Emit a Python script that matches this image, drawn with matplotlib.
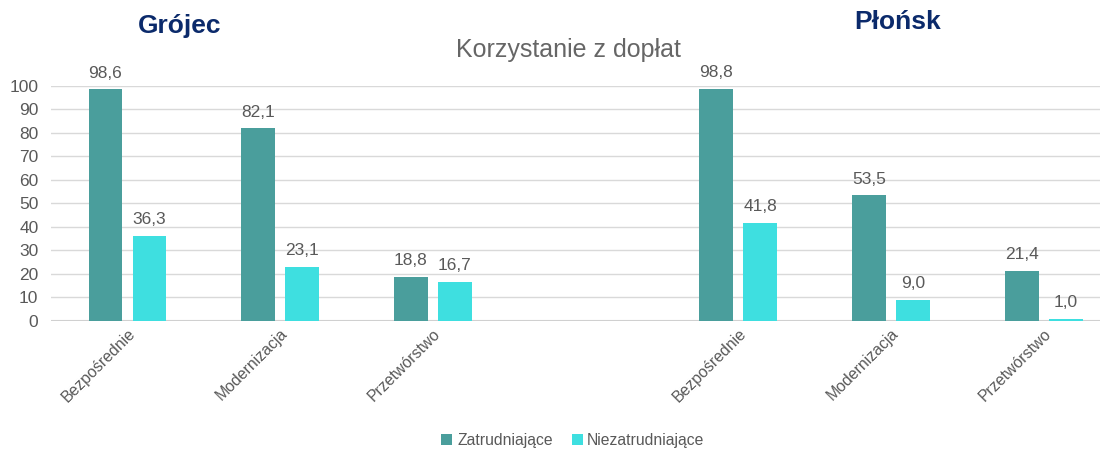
import numpy as np
import matplotlib.pyplot as plt

plt.rcParams['font.family'] = ['Liberation Sans', 'DejaVu Sans']

# data (4th slot is the empty gap between the two counties)
categories = ['Bezpośrednie', 'Modernizacja', 'Przetwórstwo', '',
              'Bezpośrednie', 'Modernizacja', 'Przetwórstwo']
zatrudniajace = [98.6, 82.1, 18.8, np.nan, 98.8, 53.5, 21.4]
niezatrudniajace = [36.3, 23.1, 16.7, np.nan, 41.8, 9.0, 1.0]
counties = ['Grójec', 'Płońsk']

teal = '#4A9E9C'
cyan = '#3EDFE0'
grey = '#595959'

fig = plt.figure(figsize=(11.13, 4.5), dpi=100)
ax = fig.add_axes([0.0458, 0.2867, 0.9424, 0.5223])

x = np.arange(len(categories))
w = 0.22
off = 0.144
b1 = ax.bar(x - off, zatrudniajace, w, color=teal, label='Zatrudniające', zorder=3)
b2 = ax.bar(x + off, niezatrudniajace, w, color=cyan, label='Niezatrudniające', zorder=3)

for bars, vals in ((b1, zatrudniajace), (b2, niezatrudniajace)):
    for rect, v in zip(bars, vals):
        if np.isnan(v):
            continue
        ax.annotate(f'{v:.1f}'.replace('.', ','),
                    (rect.get_x() + rect.get_width() / 2, v),
                    xytext=(0, 6), textcoords='offset points',
                    ha='center', va='bottom', fontsize=12.5, color=grey,
                    annotation_clip=False)

ax.set_ylim(0, 100)
ax.set_xlim(-0.5, -0.5 + 1049 / 152.75)
ax.set_yticks(range(0, 101, 10))
ax.yaxis.grid(True, color='#D9D9D9', linewidth=1, zorder=0)
ax.axhline(0, color='#D0D0D0', linewidth=1.5, zorder=2)
for s in ax.spines.values():
    s.set_visible(False)
ax.tick_params(axis='both', length=0, colors=grey, labelsize=12.5)
ax.tick_params(axis='y', pad=9)

ax.set_xticks(x)
ax.set_xticklabels(categories, rotation=45, ha='right', rotation_mode='anchor',
                   fontsize=11.4)

fig.text(568 / 1113, 1 - 50 / 450, 'Korzystanie z dopłat', ha='center', va='center',
         fontsize=18, color='#666666')
fig.text(180 / 1113, 1 - 26 / 450, counties[0], ha='center', va='center',
         fontsize=19, fontweight='bold', color='#0B2A6B')
fig.text(898 / 1113, 1 - 22 / 450, counties[1], ha='center', va='center',
         fontsize=19, fontweight='bold', color='#0B2A6B')

fig.legend(handles=[b1, b2], loc='center', bbox_to_anchor=(573 / 1113, 1 - 440 / 450),
           ncol=2, frameon=False, fontsize=11.3, handlelength=0.7, handleheight=0.7,
           handletextpad=0.3, columnspacing=1.2, labelcolor=grey)

fig.savefig('out.png', dpi=100)
